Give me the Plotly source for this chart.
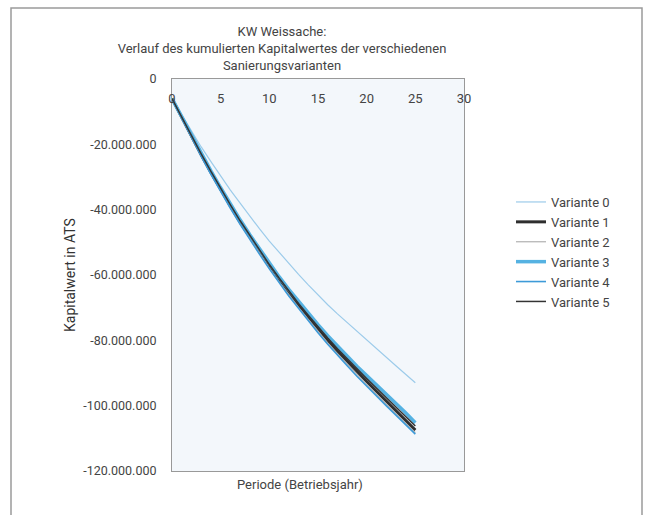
import plotly.graph_objects as go

periods = list(range(0, 26))
series_names = ["Variante 0", "Variante 1", "Variante 2", "Variante 3", "Variante 4", "Variante 5"]

# cumulative capital value in million ATS
v0 = [-6, -11, -16, -20.8, -25.3, -29.7, -34, -38, -42, -45.9, -49.6, -53.1, -56.5, -59.8, -63, -66.1,
      -69.1, -71.9, -74.6, -77.3, -79.9, -82.5, -85.1, -87.8, -90.4, -93]
v1 = [-6, -11.8, -17.5, -23.2, -28.6, -33.9, -38.9, -43.8, -48.4, -52.9, -57.3, -61.4, -65.4, -69.2, -72.9, -76.5,
      -80, -83.3, -86.5, -89.6, -92.6, -95.6, -98.5, -101.4, -104.4, -107.5]
v2 = [-6, -12, -17.8, -23.5, -29, -34.3, -39.3, -44.3, -48.9, -53.4, -57.8, -62, -66, -69.9, -73.6, -77.3,
      -80.8, -84.1, -87.3, -90.5, -93.5, -96.5, -99.4, -102.3, -105.3, -108.3]
v3 = [-6, -11.6, -17.2, -22.8, -28.1, -33.3, -38.3, -43.1, -47.7, -52.1, -56.4, -60.5, -64.4, -68.1, -71.7, -75.2,
      -78.6, -81.8, -84.9, -87.9, -90.8, -93.6, -96.4, -99.2, -102.2, -105.2]
v4 = [-6, -12, -17.9, -23.7, -29.2, -34.5, -39.6, -44.5, -49.2, -53.7, -58.1, -62.3, -66.4, -70.2, -74, -77.7,
      -81.2, -84.6, -87.8, -91, -94.1, -97.1, -100, -102.9, -105.8, -108.7]
v5 = [-6, -11.7, -17.3, -22.9, -28.3, -33.5, -38.5, -43.4, -48, -52.5, -56.8, -60.9, -64.9, -68.7, -72.3, -75.9,
      -79.3, -82.6, -85.7, -88.8, -91.7, -94.6, -97.5, -100.4, -103.3, -106.2]
series_values = [v0, v1, v2, v3, v4, v5]

y_tickvals = [0, -20e6, -40e6, -60e6, -80e6, -100e6, -120e6]
y_ticktext = ["0", "-20.000.000", "-40.000.000", "-60.000.000", "-80.000.000", "-100.000.000", "-120.000.000"]
x_tickvals = [0, 5, 10, 15, 20, 25, 30]

styles = [
    dict(color="#9ccbea", width=1.2),
    dict(color="#2e2e2e", width=3),
    dict(color="#b0b0b0", width=1.2),
    dict(color="#55b2e2", width=3.5),
    dict(color="#3d9ad8", width=1.6),
    dict(color="#333333", width=1.5),
]

FONT = "Roboto, Arial, sans-serif"

fig = go.Figure()
for name, vals, st in zip(series_names, series_values, styles):
    fig.add_trace(go.Scatter(x=periods, y=[v * 1e6 for v in vals], mode="lines", name=name,
                             line=dict(color=st["color"], width=st["width"])))

L, R, T, B = 172, 464, 79, 471
W, H = 649, 515
pw, ph = R - L, B - T

def px_x(x):
    return (x - L) / pw

def px_y(y):
    return (B - y) / ph

fig.update_layout(
    width=W, height=H,
    margin=dict(l=L, r=W - R, t=T, b=H - B),
    paper_bgcolor="#ffffff",
    plot_bgcolor="#f3f7fb",
    font=dict(family=FONT, size=13, color="#444444"),
    title=dict(text="KW Weissache:<br>Verlauf des kumulierten Kapitalwertes der verschiedenen<br>Sanierungsvarianten",
               x=282 / W, xanchor="center", xref="container",
               y=1 - 23 / H, yanchor="top", yref="container",
               pad=dict(t=13),
               font=dict(family=FONT, size=13, color="#444444")),
    showlegend=True,
    legend=dict(x=px_x(511), y=px_y(187), xanchor="left", yanchor="top",
                bgcolor="rgba(0,0,0,0)", font=dict(family=FONT, size=13, color="#444444"),
                tracegroupgap=0),
    xaxis=dict(range=[0, 30], tickvals=x_tickvals, side="top", ticklabelposition="outside",
               ticklabelstandoff=-30,
               showgrid=False, zeroline=False, showline=True, linecolor="#999999", linewidth=1,
               mirror=True, ticks="", tickfont=dict(size=13, color="#444444")),
    yaxis=dict(range=[-120e6, 0], tickvals=y_tickvals, ticktext=y_ticktext,
               showgrid=False, zeroline=False, showline=True, linecolor="#999999", linewidth=1,
               mirror=True, ticks="", ticklabelstandoff=12, tickfont=dict(size=12.5, color="#444444")),
    annotations=[
        dict(text="Kapitalwert in ATS", x=px_x(60), y=0.5, xref="paper", yref="paper",
             textangle=-90, showarrow=False, font=dict(family=FONT, size=14, color="#333333")),
        dict(text="Periode (Betriebsjahr)", x=px_x(300), y=px_y(494), xref="paper", yref="paper",
             showarrow=False, font=dict(family=FONT, size=13, color="#444444")),
    ],
    shapes=[
        dict(type="rect", xref="paper", yref="paper", x0=px_x(11), x1=px_x(642), y0=px_y(530), y1=px_y(8),
             line=dict(color="#9a9a9a", width=1.5), layer="below"),
    ],
)

fig.write_html("out.html")
